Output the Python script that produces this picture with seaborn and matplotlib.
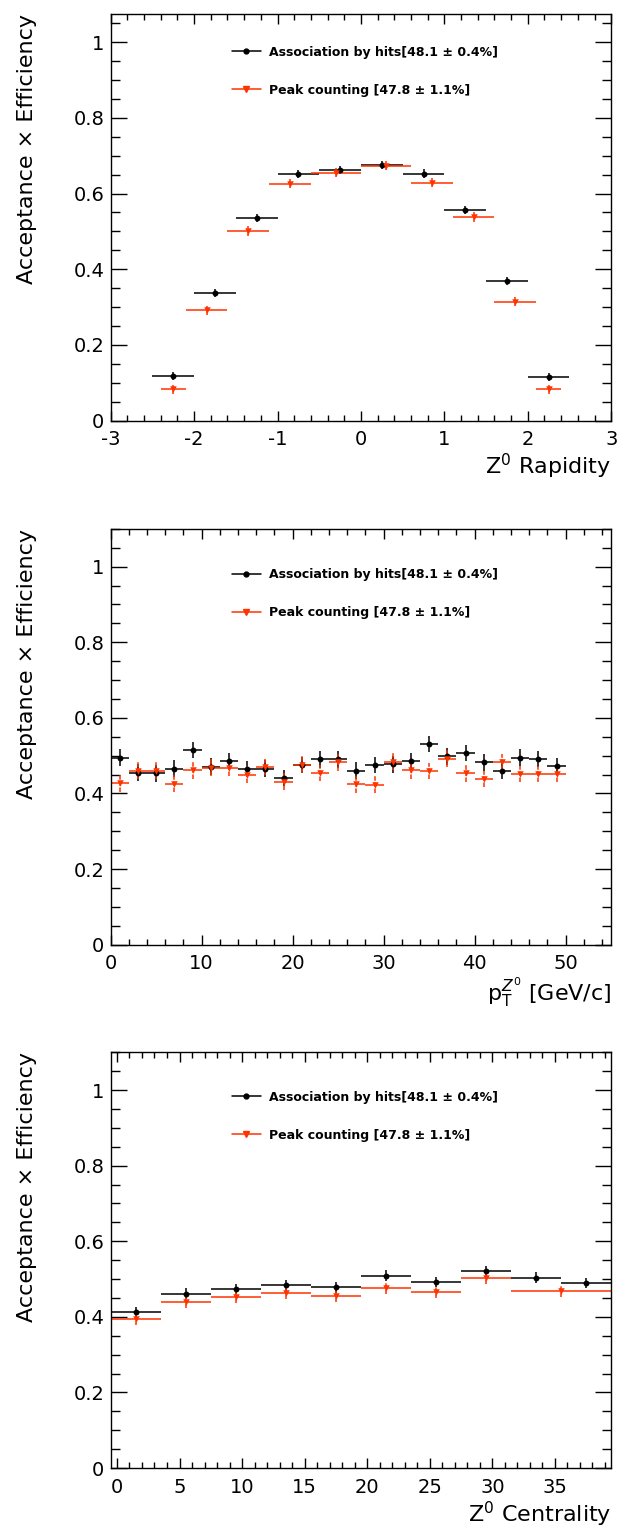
import numpy as np
import matplotlib
matplotlib.use("Agg")
import matplotlib.pyplot as plt
import seaborn as sns
from matplotlib.lines import Line2D
from matplotlib.ticker import MultipleLocator, FormatStrFormatter

# --- data ---
labels = ["Association by hits[48.1 ± 0.4%]", "Peak counting [47.8 ± 1.1%]"]

# Z0 rapidity
rap_hits_x = [-2.25, -1.75, -1.25, -0.75, -0.25, 0.25, 0.75, 1.25, 1.75, 2.25]
rap_hits_xerr = [0.25] * 10
rap_hits_y = [0.117, 0.338, 0.536, 0.652, 0.663, 0.675, 0.653, 0.556, 0.368, 0.115]
rap_hits_yerr = [0.011] * 10
rap_peak_x = [-2.25, -1.85, -1.35, -0.85, -0.3, 0.3, 0.85, 1.35, 1.85, 2.25]
rap_peak_xerr = [0.15, 0.25, 0.25, 0.25, 0.3, 0.3, 0.25, 0.25, 0.25, 0.15]
rap_peak_y = [0.083, 0.292, 0.501, 0.626, 0.655, 0.674, 0.629, 0.538, 0.314, 0.083]
rap_peak_yerr = [0.012] * 10

# Z0 pT
pt_x = [1, 3, 5, 7, 9, 11, 13, 15, 17, 19, 21, 23, 25, 27, 29, 31, 33, 35, 37, 39, 41, 43, 45, 47, 49]
pt_xerr = [1] * 25
pt_hits_y = [0.495, 0.455, 0.453, 0.466, 0.515, 0.471, 0.485, 0.465, 0.466, 0.441, 0.475, 0.490,
             0.490, 0.460, 0.475, 0.477, 0.486, 0.531, 0.498, 0.507, 0.482, 0.459, 0.495, 0.491, 0.472]
pt_hits_yerr = [0.022] * 25
pt_peak_y = [0.427, 0.460, 0.460, 0.426, 0.461, 0.468, 0.468, 0.450, 0.470, 0.431, 0.476, 0.454,
             0.482, 0.424, 0.423, 0.484, 0.461, 0.459, 0.492, 0.453, 0.438, 0.483, 0.451, 0.451, 0.451]
pt_peak_yerr = [0.022] * 25

# Z0 centrality
cen_hits_x = [1.5, 5.5, 9.5, 13.5, 17.5, 21.5, 25.5, 29.5, 33.5, 37.5]
cen_hits_xerr = [2] * 10
cen_hits_y = [0.412, 0.461, 0.474, 0.483, 0.478, 0.509, 0.492, 0.521, 0.504, 0.490]
cen_hits_yerr = [0.014] * 10
cen_peak_x = [1.5, 5.5, 9.5, 13.5, 17.5, 21.5, 25.5, 29.5, 35.5]
cen_peak_xerr = [2, 2, 2, 2, 2, 2, 2, 2, 4]
cen_peak_y = [0.394, 0.439, 0.452, 0.462, 0.456, 0.477, 0.466, 0.502, 0.469]
cen_peak_yerr = [0.016] * 9

BLACK = "#000000"
RED = "#ff3300"

sns.set_theme(style="ticks")
plt.rcParams["font.family"] = ["DejaVu Sans"]
plt.rcParams["axes.unicode_minus"] = False
plt.rcParams["mathtext.fontset"] = "dejavusans"
for key in ["text.color", "axes.labelcolor", "xtick.color", "ytick.color", "axes.edgecolor"]:
    plt.rcParams[key] = "black"


def draw_series(ax, x, xerr, y, yerr, color, marker, size):
    eb = ax.errorbar(x, y, xerr=xerr, yerr=yerr, fmt="none", ecolor=color,
                     elinewidth=1.1, capsize=0, zorder=2)
    if color == RED:
        # vertical bars of the red series look dashed
        eb[2][1].set_linestyle((0, (3, 1)))
    sns.scatterplot(x=x, y=y, ax=ax, color=color, marker=marker, s=size,
                    linewidth=0, zorder=3, legend=False)


def style_axes(ax, xlim, ylim, xmajor, xminor, xlabel, leg_top):
    ax.set_xlim(*xlim)
    ax.set_ylim(*ylim)
    ax.xaxis.set_major_locator(MultipleLocator(xmajor))
    ax.xaxis.set_minor_locator(MultipleLocator(xminor))
    ax.yaxis.set_major_locator(MultipleLocator(0.2))
    ax.yaxis.set_minor_locator(MultipleLocator(0.05))
    ax.yaxis.set_major_formatter(FormatStrFormatter("%g"))
    ax.xaxis.set_major_formatter(FormatStrFormatter("%g"))
    ax.tick_params(which="both", direction="in", top=True, right=True,
                   width=1.0, color="black", labelsize=14)
    ax.tick_params(axis="y", which="major", length=11.5, pad=4.5)
    ax.tick_params(axis="y", which="minor", length=6.5)
    ax.tick_params(axis="x", which="major", length=7.5, pad=7)
    ax.tick_params(axis="x", which="minor", length=4)
    for s in ax.spines.values():
        s.set_linewidth(1.0)
        s.set_color("black")
    ax.set_xlabel(xlabel, fontsize=16, loc="right", labelpad=2)
    ax.set_ylabel("Acceptance × Efficiency", fontsize=16, loc="top", labelpad=26)

    handles = [Line2D([], [], color=BLACK, marker="o", markersize=3.5, linewidth=1.1),
               Line2D([], [], color=RED, marker="v", markersize=4, linewidth=1.1)]
    ax.legend(handles, labels, loc="upper left", bbox_to_anchor=(0.242, leg_top),
              frameon=False, borderpad=0, borderaxespad=0, handlelength=2.3,
              handletextpad=0.7, labelspacing=2.0,
              prop={"weight": "bold", "size": 9})


fig = plt.figure(figsize=(6.18, 15.33), dpi=100)
ax1 = fig.add_axes([0.1791, 0.7257, 0.8099, 0.2652])
ax2 = fig.add_axes([0.1791, 0.3838, 0.8099, 0.2712])
ax3 = fig.add_axes([0.1791, 0.0424, 0.8099, 0.2712])

draw_series(ax1, rap_hits_x, rap_hits_xerr, rap_hits_y, rap_hits_yerr, BLACK, "o", 18)
draw_series(ax1, rap_peak_x, rap_peak_xerr, rap_peak_y, rap_peak_yerr, RED, "v", 22)
style_axes(ax1, (-3, 3), (0, 1.075), 1, 0.2, "Z$^0$ Rapidity", 0.922)

draw_series(ax2, pt_x, pt_xerr, pt_hits_y, pt_hits_yerr, BLACK, "o", 18)
draw_series(ax2, pt_x, pt_xerr, pt_peak_y, pt_peak_yerr, RED, "v", 22)
style_axes(ax2, (0, 55), (0, 1.1), 10, 2, "p$_\\mathrm{T}^{Z^0}$ [GeV/c]", 0.905)

draw_series(ax3, cen_hits_x, cen_hits_xerr, cen_hits_y, cen_hits_yerr, BLACK, "o", 18)
draw_series(ax3, cen_peak_x, cen_peak_xerr, cen_peak_y, cen_peak_yerr, RED, "v", 22)
style_axes(ax3, (-0.5, 39.5), (0, 1.1), 5, 1, "Z$^0$ Centrality", 0.908)

fig.savefig("out.png", dpi=100, facecolor="white")
plt.close(fig)
